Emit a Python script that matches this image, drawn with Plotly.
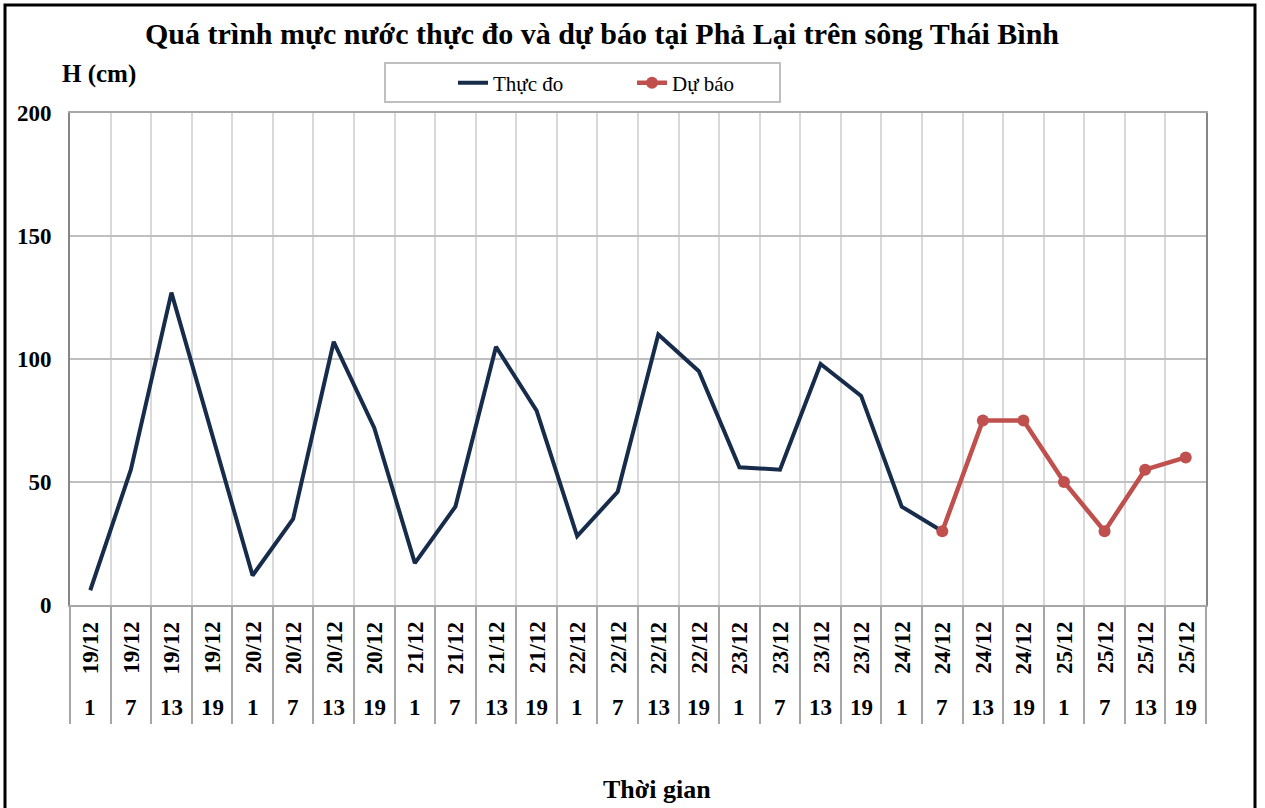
import plotly.graph_objects as go

dates = ["19/12"] * 4 + ["20/12"] * 4 + ["21/12"] * 4 + ["22/12"] * 4 + ["23/12"] * 4 + ["24/12"] * 4 + ["25/12"] * 4
hours = ["1", "7", "13", "19"] * 7
actual = [6, 55, 127, 70, 12, 35, 107, 72, 17, 40, 105, 79, 28, 46, 110, 95, 56, 55, 98, 85, 40, 30,
          None, None, None, None, None, None]
forecast = [None] * 21 + [30, 75, 75, 50, 30, 55, 60]
y_ticks = [0, 50, 100, 150, 200]

cats = [f"{d} {h}" for d, h in zip(dates, hours)]

SERIF = "Liberation Serif"
W, H = 1265, 808
L, R, T, B = 70, 59, 113, 203
PW, PH = W - L - R, H - T - B


def px_x(px):
    return (px - L) / PW


def px_y(py):
    return (H - B - py) / PH


fig = go.Figure()
fig.add_trace(go.Scatter(x=cats, y=actual, mode="lines", name="Thực đo",
                         line=dict(color="#172B4A", width=4)))
fig.add_trace(go.Scatter(x=cats, y=forecast, mode="lines+markers", name="Dự báo",
                         line=dict(color="#C0504D", width=4.5),
                         marker=dict(color="#C0504D", size=12)))

annotations = []
for c, d, h in zip(cats, dates, hours):
    annotations.append(dict(x=c, xref="x", y=0, yref="paper", yshift=-43, text=f"<b>{d}</b>",
                            textangle=-90, showarrow=False, yanchor="middle", xanchor="center",
                            font=dict(family=SERIF, size=23, color="black")))
    annotations.append(dict(x=c, xref="x", y=0, yref="paper", yshift=-102, text=f"<b>{h}</b>",
                            showarrow=False, yanchor="middle", xanchor="center",
                            font=dict(family=SERIF, size=23, color="black")))

annotations.append(dict(x=px_x(602), xref="paper", y=px_y(33), yref="paper",
                        text="<b>Quá trình mực nước thực đo và dự báo tại Phả Lại trên sông Thái Bình</b>",
                        showarrow=False, xanchor="center", yanchor="middle",
                        font=dict(family=SERIF, size=30, color="black")))
annotations.append(dict(x=px_x(60), xref="paper", y=px_y(74), yref="paper",
                        text="<b>H (cm)</b>", showarrow=False, xanchor="left", yanchor="middle",
                        font=dict(family=SERIF, size=25, color="black")))
annotations.append(dict(x=px_x(657), xref="paper", y=px_y(789), yref="paper",
                        text="<b>Thời gian</b>", showarrow=False, xanchor="center", yanchor="middle",
                        font=dict(family=SERIF, size=26, color="black")))

shapes = [
    # outer chart border
    dict(type="rect", xref="paper", yref="paper", x0=px_x(5), x1=px_x(1255), y0=px_y(818), y1=px_y(5),
         line=dict(color="black", width=3), layer="below"),
    # legend box
    dict(type="rect", xref="paper", yref="paper", x0=px_x(385), x1=px_x(780), y0=px_y(102), y1=px_y(63),
         line=dict(color="#BFBFBF", width=2), fillcolor="white", layer="below"),
]

fig.update_layout(
    width=W, height=H,
    margin=dict(l=L, r=R, t=T, b=B, autoexpand=False),
    paper_bgcolor="white", plot_bgcolor="white",
    showlegend=True,
    legend=dict(orientation="h", x=px_x(453), y=px_y(83), xanchor="left", yanchor="middle",
                bgcolor="rgba(0,0,0,0)", borderwidth=0, entrywidth=134, entrywidthmode="pixels",
                font=dict(family=SERIF, size=21, color="black")),
    annotations=annotations,
    shapes=shapes,
    xaxis=dict(type="category", categoryorder="array", categoryarray=cats,
               tickson="boundaries", showgrid=True, gridcolor="#D9D9D9", gridwidth=2,
               ticks="outside", ticklen=117, tickcolor="#A6A6A6", tickwidth=2,
               showticklabels=False, showline=True, linecolor="#A6A6A6", linewidth=2, mirror=True,
               range=[-0.5, len(cats) - 0.5], zeroline=False, automargin=False),
    yaxis=dict(range=[0, 200], tickvals=y_ticks, ticktext=[f"<b>{v}</b>" for v in y_ticks],
               showgrid=True, gridcolor="#BFBFBF", gridwidth=2,
               showline=True, linecolor="#868686", linewidth=2, mirror=True,
               ticks="", ticklabelstandoff=12, zeroline=False, automargin=False,
               tickfont=dict(family=SERIF, size=23, color="black")),
)

fig.write_html("out.html", config={"displayModeBar": False},
               post_script="document.body.style.margin='0px';")
